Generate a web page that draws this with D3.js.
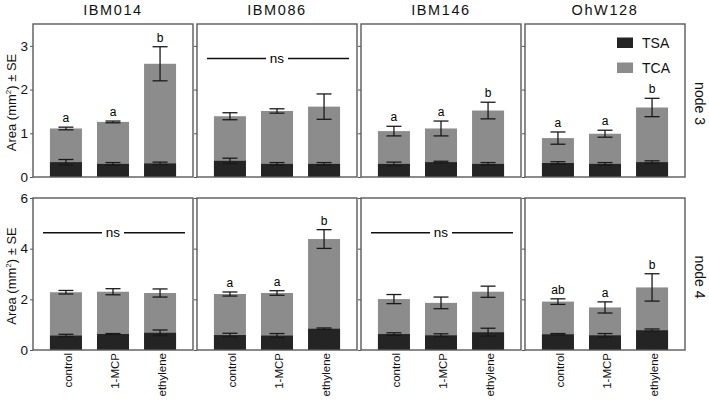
<!DOCTYPE html>
<html><head><meta charset="utf-8">
<script src="https://cdn.jsdelivr.net/npm/d3@7"></script>
<style>body{margin:0;background:#fff}svg{display:block;font-family:Arial,"Liberation Sans",sans-serif}</style>
</head><body><svg id="c" width="709" height="400"></svg>
<script>
const genotypes = ["IBM014","IBM086","IBM146","OhW128"];
const treatments = ["control","1-MCP","ethylene"];
const nodes = ["node 3","node 4"];
const yMax = [3.5, 6];
const yTicks = [[0,1,2,3],[0,2,4,6]];
// total (TSA+TCA) height and SE, [node][genotype][treatment]
const totalVals = [
  [[1.11,1.26,2.59],[1.39,1.51,1.61],[1.05,1.11,1.52],[0.89,0.99,1.59]],
  [[2.28,2.30,2.25],[2.21,2.25,4.38],[2.01,1.86,2.30],[1.91,1.68,2.47]]
];
const totalSE = [
  [[0.03,0.02,0.39],[0.08,0.05,0.29],[0.11,0.17,0.19],[0.14,0.08,0.21]],
  [[0.07,0.12,0.16],[0.08,0.09,0.37],[0.18,0.23,0.22],[0.11,0.22,0.54]]
];
const tsaVals = [
  [[0.34,0.30,0.31],[0.37,0.30,0.30],[0.30,0.34,0.30],[0.32,0.30,0.34]],
  [[0.57,0.63,0.68],[0.59,0.57,0.84],[0.63,0.58,0.70],[0.62,0.58,0.78]]
];
const tsaSE = [
  [[0.06,0.03,0.03],[0.06,0.03,0.03],[0.04,0.02,0.03],[0.03,0.03,0.03]],
  [[0.05,0.02,0.11],[0.07,0.08,0.03],[0.05,0.06,0.16],[0.03,0.07,0.05]]
];
const letters = [
  [["a","a","b"],null,["a","a","b"],["a","a","b"]],
  [null,["a","a","b"],null,["ab","a","b"]]
];
const nsLevel = [[null,2.71,null,null],[4.63,null,4.63,null]];
const legendKeys = ["TSA","TCA"];
const colors = {TSA:"#242424", TCA:"#8c8c8c"};

const svg = d3.select("#c");
const panelW = 160, gap = 4, left0 = 33;
const rowTop = [24, 198], rowBot = [177, 350];

nodes.forEach((nd, r) => {
  const y = d3.scaleLinear().domain([0, yMax[r]]).range([rowBot[r], rowTop[r]]);
  genotypes.forEach((g, c) => {
    const x0 = left0 + c*(panelW+gap);
    const x = d3.scaleBand().domain(treatments).range([x0, x0+panelW]).paddingInner(0.32).paddingOuter(0.36);
    const gp = svg.append("g");
    treatments.forEach((t, i) => {
      const tot = totalVals[r][c][i], tsa = tsaVals[r][c][i];
      gp.append("rect").attr("x", x(t)).attr("width", x.bandwidth())
        .attr("y", y(tot)).attr("height", y(0)-y(tot)).attr("fill", colors.TCA);
      gp.append("rect").attr("x", x(t)).attr("width", x.bandwidth())
        .attr("y", y(tsa)).attr("height", y(0)-y(tsa)).attr("fill", colors.TSA);
      const cx = x(t) + x.bandwidth()/2, cw = 7.5;
      [[tot, totalSE[r][c][i]],[tsa, tsaSE[r][c][i]]].forEach(([v,se]) => {
        const e = gp.append("g").attr("stroke","#1a1a1a").attr("stroke-width",1.3);
        e.append("line").attr("x1",cx).attr("x2",cx).attr("y1",y(v+se)).attr("y2",y(v-se));
        e.append("line").attr("x1",cx-cw).attr("x2",cx+cw).attr("y1",y(v+se)).attr("y2",y(v+se));
        e.append("line").attr("x1",cx-cw).attr("x2",cx+cw).attr("y1",y(v-se)).attr("y2",y(v-se));
      });
      if (letters[r][c]) {
        gp.append("text").attr("x", cx).attr("y", y(tot+totalSE[r][c][i]) - 5)
          .attr("text-anchor","middle").attr("font-size",12).attr("fill","#000").text(letters[r][c][i]);
      }
    });
    if (nsLevel[r][c] != null) {
      const yy = y(nsLevel[r][c]), mid = x0 + panelW/2;
      gp.append("line").attr("x1", x0+10).attr("x2", mid-11).attr("y1",yy).attr("y2",yy).attr("stroke","#111").attr("stroke-width",1.5);
      gp.append("line").attr("x1", mid+11).attr("x2", x0+panelW-8).attr("y1",yy).attr("y2",yy).attr("stroke","#111").attr("stroke-width",1.5);
      gp.append("text").attr("x", mid).attr("y", yy+4).attr("text-anchor","middle").attr("font-size",13.5).attr("fill","#000").text("ns");
    }
    gp.append("rect").attr("x",x0).attr("y",rowTop[r]).attr("width",panelW).attr("height",rowBot[r]-rowTop[r])
      .attr("fill","none").attr("stroke","#5a5a5a").attr("stroke-width",1.4);
    const ax = d3.axisLeft(y).tickValues(yTicks[r]).tickSize(3).tickPadding(2).tickFormat(c===0 ? d3.format("d") : "");
    const ag = svg.append("g").attr("transform",`translate(${x0},0)`).call(ax);
    ag.select(".domain").remove();
    ag.selectAll("line").attr("stroke","#555");
    ag.selectAll("text").attr("font-size",13.5).attr("fill","#111").attr("font-family","Arial, Liberation Sans, sans-serif");
    if (r===0) {
      svg.append("text").attr("x", x0+panelW/2).attr("y", 14.5).attr("text-anchor","middle")
        .attr("font-size",14.5).attr("letter-spacing",1.6).attr("fill","#111").text(g);
    }
    if (r===1) {
      treatments.forEach(t => {
        const cx = x(t)+x.bandwidth()/2;
        svg.append("text").attr("transform",`translate(${cx+6},${rowBot[r]+3}) rotate(-90)`)
          .attr("text-anchor","end").attr("font-size",11.5).attr("fill","#111").text(t);
      });
    }
  });
  const ym = (rowTop[r]+rowBot[r])/2;
  const yt = svg.append("text").attr("transform",`translate(16,${ym+2}) rotate(-90)`).attr("text-anchor","middle")
    .attr("font-size",13).attr("fill","#111");
  yt.append("tspan").text("Area (mm");
  yt.append("tspan").attr("font-size",8).attr("dy",-5).text("2");
  yt.append("tspan").attr("dy",5).text(") ± SE");
  svg.append("text").attr("transform",`translate(695,${ym+3}) rotate(90)`).attr("text-anchor","middle")
    .attr("font-size",14).attr("fill","#111").text(nd);
});

legendKeys.forEach((k,i) => {
  const ly = 37.5 + i*25;
  svg.append("rect").attr("x",617).attr("y",ly).attr("width",16).attr("height",10.5).attr("fill",colors[k]);
  svg.append("text").attr("x",642).attr("y",ly+10.5).attr("font-size",14).attr("fill","#111").text(k);
});
</script></body></html>
